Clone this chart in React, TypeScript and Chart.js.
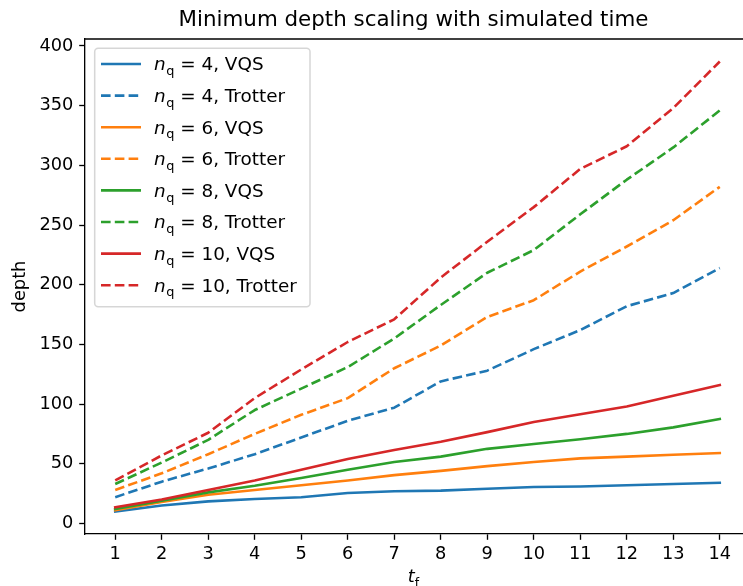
import { useEffect, useRef } from "react";
import { Chart, registerables } from "chart.js";

Chart.register(...registerables);

const tValues = [1, 2, 3, 4, 5, 6, 7, 8, 9, 10, 11, 12, 13, 14];
const xTickValues = [1, 2, 3, 4, 5, 6, 7, 8, 9, 10, 11, 12, 13, 14];
const yTickValues = [0, 50, 100, 150, 200, 250, 300, 350, 400];

const nqValues = [4, 6, 8, 10];
const methods = ["VQS", "Trotter"];
const colors = ["#1f77b4", "#ff7f0e", "#2ca02c", "#d62728"];

const vqs4 = [10, 15, 18.5, 20.5, 22, 25.5, 27, 27.5, 29, 30.5, 31, 32, 33, 34];
const trotter4 = [22, 35, 46, 58, 72, 86, 97, 119, 128, 146, 162, 182, 193, 214];
const vqs6 = [11, 18, 24, 28, 32, 36, 40.5, 44, 48, 51.5, 54.5, 56, 57.5, 59];
const trotter6 = [28, 42, 58, 75, 91, 105, 130, 149, 173, 187, 211, 232, 254, 282];
const vqs8 = [12, 19, 26, 31.5, 38, 45, 51.5, 56, 62.5, 66.5, 70.5, 75, 80.5, 87.5];
const trotter8 = [33, 51, 70, 95, 113, 131, 155, 183, 210, 229, 259, 288, 315, 346];
const vqs10 = [13.5, 20, 28, 36, 45, 54, 61.5, 68.5, 76.5, 85, 91.5, 98, 107, 116];
const trotter10 = [36, 57, 76, 105, 129, 152, 171, 206, 236, 265, 297, 316, 348, 387];

const seriesVQS = [vqs4, vqs6, vqs8, vqs10];
const seriesTrotter = [trotter4, trotter6, trotter8, trotter10];

const FONT = '"DejaVu Sans", "Liberation Sans", sans-serif';
const TICK_FS = 17.8;
const LEGEND_FS = 18.4;
const TITLE_FS = 21.4;
const LW = 2.6;
const DASH = [9.6, 4.2];

function drawNqLabel(ctx: CanvasRenderingContext2D, x: number, y: number, text: string, fs: number) {
  ctx.textAlign = "left";
  ctx.textBaseline = "alphabetic";
  ctx.font = `italic ${fs}px ${FONT}`;
  ctx.fillText("n", x, y);
  let w = ctx.measureText("n").width + 0.5;
  ctx.font = `${fs * 0.7}px ${FONT}`;
  ctx.fillText("q", x + w, y + fs * 0.27);
  w += ctx.measureText("q").width;
  ctx.font = `${fs}px ${FONT}`;
  ctx.fillText(text, x + w, y);
}

const textPlugin = {
  id: "mplText",
  afterDraw(chart: any) {
    const ctx: CanvasRenderingContext2D = chart.ctx;
    const area = chart.chartArea;
    ctx.save();
    // top spine
    ctx.strokeStyle = "#000";
    ctx.lineWidth = 1.33;
    ctx.beginPath();
    ctx.moveTo(area.left, area.top);
    ctx.lineTo(area.right, area.top);
    ctx.stroke();

    const cx = (area.left + area.right) / 2;
    ctx.fillStyle = "#000";
    // title
    ctx.font = `${TITLE_FS}px ${FONT}`;
    ctx.textAlign = "center";
    ctx.textBaseline = "alphabetic";
    ctx.fillText("Minimum depth scaling with simulated time", cx - 4, 26);

    // x label t_f
    ctx.font = `italic ${TICK_FS}px ${FONT}`;
    const tw = ctx.measureText("t").width;
    ctx.font = `${TICK_FS * 0.7}px ${FONT}`;
    const fw = ctx.measureText("f").width;
    const x0 = cx - 4 - (tw + fw) / 2;
    ctx.textAlign = "left";
    ctx.font = `italic ${TICK_FS}px ${FONT}`;
    ctx.fillText("t", x0, 582);
    ctx.font = `${TICK_FS * 0.7}px ${FONT}`;
    ctx.fillText("f", x0 + tw, 582 + TICK_FS * 0.27);

    // y label
    ctx.save();
    ctx.translate(25, (area.top + area.bottom) / 2);
    ctx.rotate(-Math.PI / 2);
    ctx.font = `${TICK_FS}px ${FONT}`;
    ctx.textAlign = "center";
    ctx.textBaseline = "alphabetic";
    ctx.fillText("depth", 0, 0);
    ctx.restore();

    // legend
    const bx = 94.7, by = 48.3, bw = 215.3, bh = 258.4, r = 3.5;
    ctx.beginPath();
    ctx.moveTo(bx + r, by);
    ctx.lineTo(bx + bw - r, by);
    ctx.arcTo(bx + bw, by, bx + bw, by + r, r);
    ctx.lineTo(bx + bw, by + bh - r);
    ctx.arcTo(bx + bw, by + bh, bx + bw - r, by + bh, r);
    ctx.lineTo(bx + r, by + bh);
    ctx.arcTo(bx, by + bh, bx, by + bh - r, r);
    ctx.lineTo(bx, by + r);
    ctx.arcTo(bx, by, bx + r, by, r);
    ctx.closePath();
    ctx.fillStyle = "rgba(255,255,255,0.8)";
    ctx.fill();
    ctx.strokeStyle = "rgba(204,204,204,0.8)";
    ctx.lineWidth = 1.5;
    ctx.stroke();

    let row = 0;
    nqValues.forEach((nq, i) => {
      methods.forEach((m, j) => {
        const y = 64 + row * 31.6;
        ctx.strokeStyle = colors[i];
        ctx.lineWidth = LW;
        ctx.setLineDash(j === 1 ? DASH : []);
        ctx.lineCap = "butt";
        ctx.beginPath();
        ctx.moveTo(101, y);
        ctx.lineTo(141, y);
        ctx.stroke();
        ctx.setLineDash([]);
        ctx.fillStyle = "#000";
        drawNqLabel(ctx, 154, y + 6.3, ` = ${nq}, ${m}`, LEGEND_FS);
        row++;
      });
    });
    ctx.restore();
  },
};

export default function App() {
  const ref = useRef<HTMLCanvasElement>(null);

  useEffect(() => {
    if (!ref.current) return;
    const all = [...seriesVQS, ...seriesTrotter].flat();
    const dmin = Math.min(...all);
    const dmax = Math.max(...all);
    const pad = 0.05 * (dmax - dmin);
    const xpad = 0.05 * (tValues[tValues.length - 1] - tValues[0]);

    const datasets: any[] = [];
    let k = 0;
    nqValues.forEach((nq, i) => {
      [seriesVQS[i], seriesTrotter[i]].forEach((vals, j) => {
        datasets.push({
          label: `n_q = ${nq}, ${methods[j]}`,
          data: tValues.map((t, idx) => ({ x: t, y: vals[idx] })),
          borderColor: colors[i],
          backgroundColor: colors[i],
          borderWidth: LW,
          borderDash: j === 1 ? DASH : [],
          borderCapStyle: j === 1 ? "butt" : "square",
          borderJoinStyle: "round",
          pointRadius: 0,
          tension: 0,
          fill: false,
          order: -k,
        });
        k++;
      });
    });

    const chart = new Chart(ref.current, {
      type: "line",
      data: { datasets },
      plugins: [textPlugin],
      options: {
        animation: false,
        responsive: false,
        devicePixelRatio: 1,
        layout: { padding: { left: 0, top: 39, right: 10, bottom: 0 } },
        plugins: { legend: { display: false }, tooltip: { enabled: false }, title: { display: false } },
        scales: {
          x: {
            type: "linear",
            min: tValues[0] - xpad,
            max: tValues[tValues.length - 1] + xpad,
            afterBuildTicks: (s: any) => {
              s.ticks = xTickValues.map((v) => ({ value: v }));
            },
            afterFit: (s: any) => {
              s.height = 52;
            },
            grid: {
              display: true,
              drawOnChartArea: false,
              drawTicks: true,
              tickLength: 5.8,
              tickWidth: 1.33,
              tickColor: "#000",
            },
            border: { display: true, color: "#000", width: 1.33 },
            ticks: {
              color: "#000",
              font: { family: FONT, size: TICK_FS },
              padding: 4,
              maxRotation: 0,
              autoSkip: false,
              callback: (v: any) => String(v),
            },
          },
          y: {
            type: "linear",
            min: dmin - pad,
            max: dmax + pad,
            afterBuildTicks: (s: any) => {
              s.ticks = yTickValues.map((v) => ({ value: v }));
            },
            afterFit: (s: any) => {
              s.width = 85;
            },
            grid: {
              display: true,
              drawOnChartArea: false,
              drawTicks: true,
              tickLength: 5.8,
              tickWidth: 1.33,
              tickColor: "#000",
            },
            border: { display: true, color: "#000", width: 1.33 },
            ticks: {
              color: "#000",
              font: { family: FONT, size: TICK_FS },
              padding: 5.8,
              autoSkip: false,
              callback: (v: any) => String(v),
            },
          },
        },
      },
    });
    return () => chart.destroy();
  }, []);

  return (
    <div style={{ position: "fixed", left: 0, top: 0, width: 743, height: 586, overflow: "hidden", background: "#fff" }}>
      <canvas ref={ref} width={760} height={586} style={{ display: "block", width: 760, height: 586 }} />
    </div>
  );
}
